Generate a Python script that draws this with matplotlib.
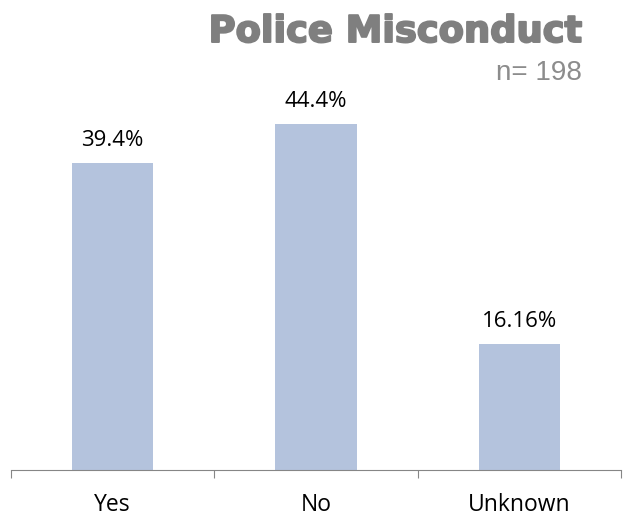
import matplotlib.pyplot as plt
import matplotlib.patheffects as pe

# --- data ---
categories = ['Yes', 'No', 'Unknown']
values = [39.4, 44.4, 16.16]
value_labels = ['39.4%', '44.4%', '16.16%']

bar_color = '#B4C3DD'
text_gray = '#7F7F7F'

fig = plt.figure(figsize=(6.23, 5.16), dpi=100)
# baseline at y=470px, 50% at ~ 470 - 50*7.79
ax = fig.add_axes([11/623, 46/516, 610/623, 389.5/516])

x = range(len(categories))
ax.bar(x, values, width=0.4, color=bar_color)

for xi, v, lab in zip(x, values, value_labels):
    ax.annotate(lab, (xi, v), xytext=(0, 12.5), textcoords='offset points',
                ha='center', va='baseline', fontsize=16, family='Open Sans')

ax.set_xlim(-0.5, 2.5)
ax.set_ylim(0, 50)
ax.set_yticks([])
for s in ['top', 'right', 'left']:
    ax.spines[s].set_visible(False)
ax.spines['bottom'].set_color('#868686')

ax.set_xticks([-0.5, 0.5, 1.5, 2.5])
ax.set_xticklabels([])
ax.tick_params(axis='x', length=5.5, color='#868686')
for xi, cat in zip(x, categories):
    ax.annotate(cat, (xi, 0), xytext=(0, -29.5), textcoords='offset points',
                ha='center', va='baseline', fontsize=16.5, family='Open Sans')

fig.text(582/623, 1 - 42/516, 'Police Misconduct', ha='right', va='baseline',
         fontsize=26.5, fontweight='black', family='DejaVu Sans', color=text_gray,
         path_effects=[pe.withStroke(linewidth=1.4, foreground=text_gray)])
fig.text(582/623, 1 - 80/516, 'n= 198', ha='right', va='baseline',
         fontsize=20, family='Liberation Sans', color='#8C8C8C')

fig.savefig('out.png', dpi=100)
